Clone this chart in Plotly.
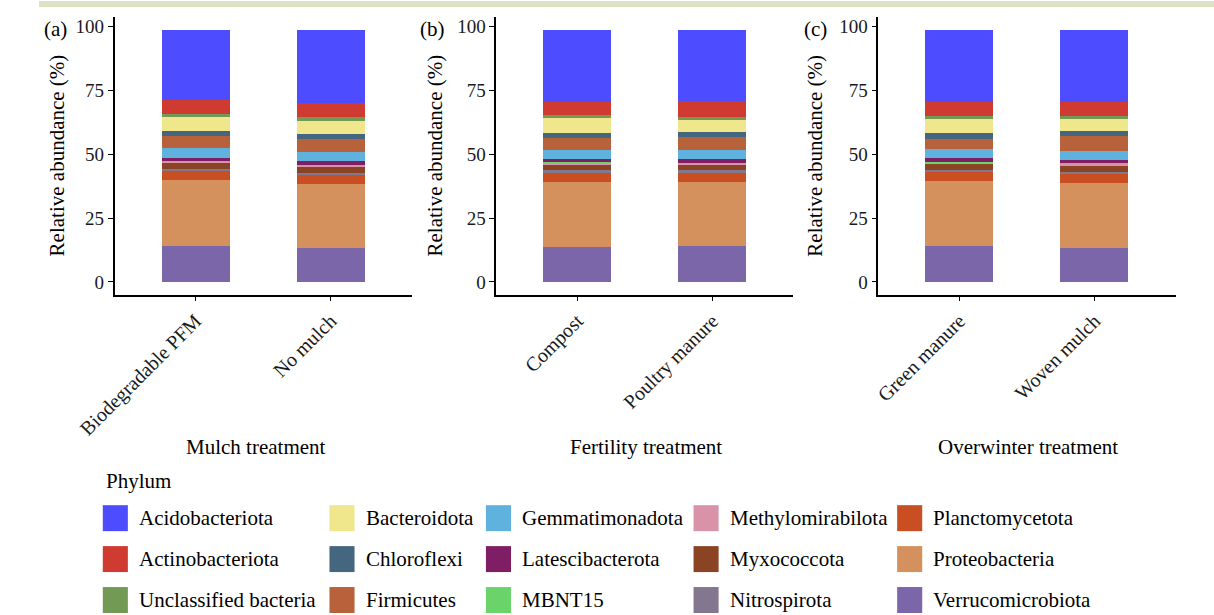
import plotly.graph_objects as go

W, H = 1214, 615

# ---------------- data ----------------
panel_labels = ["(a)", "(b)", "(c)"]
panel_titles = ["Mulch treatment", "Fertility treatment", "Overwinter treatment"]
panel_a_cats = ["Biodegradable PFM", "No mulch"]
panel_b_cats = ["Compost", "Poultry manure"]
panel_c_cats = ["Green manure", "Woven mulch"]
y_ticks = [0, 25, 50, 75, 100]

phyla = ["Acidobacteriota", "Actinobacteriota", "Unclassified bacteria",
         "Bacteroidota", "Chloroflexi", "Firmicutes",
         "Gemmatimonadota", "Latescibacterota", "MBNT15",
         "Methylomirabilota", "Myxococcota", "Nitrospirota",
         "Planctomycetota", "Proteobacteria", "Verrucomicrobiota"]
colors = ["#4d4dff", "#cf3b30", "#739a55",
          "#f0e68c", "#44677f", "#b8623b",
          "#5fb1de", "#7f1e64", "#6ad46a",
          "#d893a8", "#8b4423", "#82778e",
          "#c94e22", "#d4905d", "#7a66a8"]

# values (%) per sample: Biodegradable PFM, No mulch, Compost, Poultry manure, Green manure, Woven mulch
acidobacteriota   = [27.4, 28.9, 28.5, 27.9, 28.2, 28.2]
actinobacteriota  = [5.6, 5.3, 4.8, 6.3, 5.6, 5.6]
unclassified      = [1.3, 1.4, 1.3, 1.3, 1.2, 1.2]
bacteroidota      = [5.4, 5.1, 5.8, 4.6, 5.6, 4.8]
chloroflexi       = [2.1, 2.0, 2.1, 1.9, 2.1, 2.0]
firmicutes        = [4.7, 5.2, 4.5, 5.1, 4.1, 5.6]
gemmatimonadota   = [3.6, 3.4, 3.6, 3.5, 3.6, 3.6]
latescibacterota  = [1.2, 1.6, 1.4, 1.5, 1.3, 1.4]
mbnt15            = [0.2, 0.2, 0.2, 0.2, 0.2, 0.2]
methylomirabilota = [0.9, 0.8, 0.9, 0.9, 0.9, 0.9]
myxococcota       = [2.1, 2.2, 1.9, 1.8, 2.2, 2.1]
nitrospirota      = [0.9, 1.0, 1.2, 1.1, 0.9, 0.9]
planctomycetota   = [3.3, 3.5, 3.4, 3.6, 3.4, 3.5]
proteobacteria    = [26.2, 24.9, 25.5, 25.2, 25.6, 25.4]
verrucomicrobiota = [13.9, 13.3, 13.7, 13.9, 13.9, 13.4]

series = [acidobacteriota, actinobacteriota, unclassified, bacteroidota, chloroflexi,
          firmicutes, gemmatimonadota, latescibacterota, mbnt15, methylomirabilota,
          myxococcota, nitrospirota, planctomycetota, proteobacteria, verrucomicrobiota]

# ---------------- layout helpers ----------------
# horizontal placement is given in picture pixels and mapped to page pixels
X0, XS = 41.4, 0.965

def px(x):
    return ((x - X0) / XS) / W

def py(y):
    return 1 - y / H

FONT = "Liberation Serif"
axis_left = [116.7, 497.3, 878.3]
axis_w = 296.3
y_top, y_bot = 16, 294
ytitle_x = [59, 436, 815]
label_x = [58, 434, 816]
xtitle_x = [258, 647, 1027]

fig = go.Figure()
panel_cats = [panel_a_cats, panel_b_cats, panel_c_cats]
axis_ids = ["", "2", "3"]

# stack bottom first -> reverse the legend order
for k in range(len(phyla) - 1, -1, -1):
    for p in range(3):
        vals = series[k][2 * p:2 * p + 2]
        fig.add_trace(go.Bar(
            x=panel_cats[p], y=vals, name=phyla[k],
            marker=dict(color=colors[k], line=dict(width=0)),
            width=0.5, showlegend=False,
            xaxis="x" + axis_ids[p], yaxis="y" + axis_ids[p],
            hovertemplate="%{x}<br>" + phyla[k] + ": %{y}%<extra></extra>",
        ))

layout = dict(
    width=W, height=H, autosize=False, barmode="stack", bargap=0,
    margin=dict(l=0, r=0, t=0, b=0),
    paper_bgcolor="white", plot_bgcolor="white",
    font=dict(family=FONT, color="black"),
    showlegend=False,
)
for p in range(3):
    xd = [px(axis_left[p]), px(axis_left[p] + axis_w)]
    yd = [py(y_bot), py(y_top)]
    layout["xaxis" + axis_ids[p]] = dict(
        domain=xd, anchor="y" + axis_ids[p], type="category",
        range=[-0.6, 1.6], showline=True, linecolor="black", linewidth=1.6,
        ticks="outside", ticklen=5, tickwidth=1.2, tickcolor="black",
        tickangle=-45, tickfont=dict(family=FONT, size=20, color="#1a1a1a"),
        showgrid=False, zeroline=False, fixedrange=True,
    )
    layout["yaxis" + axis_ids[p]] = dict(
        domain=yd, anchor="x" + axis_ids[p],
        range=[-4.94, 103.74], tickvals=y_ticks, ticktext=[str(t) for t in y_ticks],
        showline=True, linecolor="black", linewidth=1.6,
        ticks="outside", ticklen=5, tickwidth=1.2, tickcolor="black",
        tickfont=dict(family=FONT, size=19, color="#1a1a1a"),
        showgrid=False, zeroline=False, fixedrange=True,
    )
fig.update_layout(**layout)

ann = []
shapes = []
# top frame strip
shapes.append(dict(type="rect", xref="paper", yref="paper", x0=0, x1=1, y0=py(6), y1=1,
                   fillcolor="#dbe2c6", line=dict(width=0), layer="below"))

for p in range(3):
    ann.append(dict(text="Relative abundance (%)", x=px(ytitle_x[p]), y=py(155),
                    xref="paper", yref="paper", showarrow=False, textangle=-90,
                    font=dict(family=FONT, size=21, color="black"),
                    xanchor="center", yanchor="middle"))
    ann.append(dict(text=panel_titles[p], x=px(xtitle_x[p]), y=py(447),
                    xref="paper", yref="paper", showarrow=False,
                    font=dict(family=FONT, size=21, color="black"),
                    xanchor="center", yanchor="middle"))
    ann.append(dict(text=panel_labels[p], x=px(label_x[p]), y=py(28),
                    xref="paper", yref="paper", showarrow=False,
                    font=dict(family=FONT, size=21, color="black"),
                    xanchor="center", yanchor="middle"))

# legend (built from phyla/colors)
ann.append(dict(text="Phylum", x=px(106), y=py(481), xref="paper", yref="paper",
                showarrow=False, xanchor="left", yanchor="middle",
                font=dict(family=FONT, size=21, color="black")))
col_x = [105, 331, 487, 694, 897]
row_y = [518, 559, 600]
sw, sh = 25, 26
for i, (name, col) in enumerate(zip(phyla, colors)):
    c, r = divmod(i, 3)
    x0 = col_x[c]
    yc = row_y[r]
    shapes.append(dict(type="rect", xref="paper", yref="paper",
                       x0=px(x0), x1=px(x0 + sw), y0=py(yc + sh / 2), y1=py(yc - sh / 2),
                       fillcolor=col, line=dict(width=0)))
    ann.append(dict(text=name, x=px(x0 + 34), y=py(yc), xref="paper", yref="paper",
                    showarrow=False, xanchor="left", yanchor="middle",
                    font=dict(family=FONT, size=21, color="black")))

fig.update_layout(annotations=ann, shapes=shapes)
fig.write_html(
    "out.html",
    config={"displayModeBar": False},
    post_script="document.body.style.margin='0';document.body.style.overflow='hidden';",
)
